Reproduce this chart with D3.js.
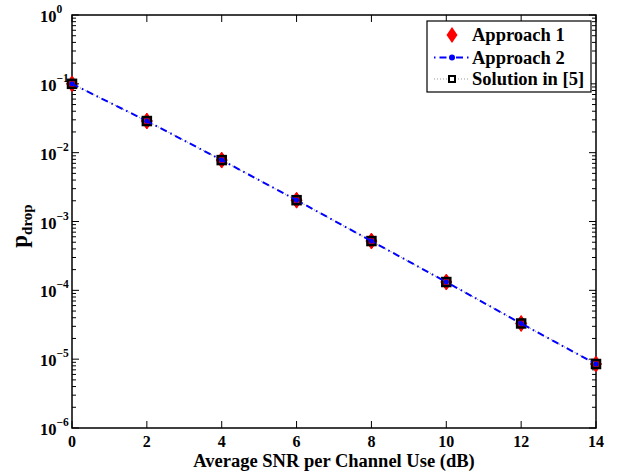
<!DOCTYPE html>
<html>
<head>
<meta charset="utf-8">
<script src="https://cdn.jsdelivr.net/npm/d3@7"></script>
<style>
  body { margin: 0; background: #fff; }
</style>
</head>
<body>
<div id="chart"></div>
<script>
"use strict";
let width = 617;
let height = 475;
let margin = {left: 72, right: 21, top: 15, bottom: 47};
let fontFamily = "'Liberation Serif', 'Times New Roman', serif";

// data
let snr = [0, 2, 4, 6, 8, 10, 12, 14];
let approach1 = [0.1, 0.0288, 0.0078, 0.00204, 0.00052, 0.000132, 0.000033, 0.0000085];
let approach2 = [0.1, 0.0288, 0.0078, 0.00204, 0.00052, 0.000132, 0.000033, 0.0000085];
let solution5 = [0.1, 0.0288, 0.0078, 0.00204, 0.00052, 0.000132, 0.000033, 0.0000085];
let xTicks = [0, 2, 4, 6, 8, 10, 12, 14];
let yExps = [0, -1, -2, -3, -4, -5, -6];
let legendNames = ["Approach 1", "Approach 2", "Solution in [5]"];

let xScale = d3.scaleLinear().domain([0, 14]).range([margin.left, width - margin.right]);
let yScale = d3.scaleLog().domain([1e-6, 1]).range([height - margin.bottom, margin.top]);

let svg = d3.select("#chart").append("svg")
    .attr("width", width)
    .attr("height", height);

function addText(sel, size) {
    return sel.append("text")
        .attr("font-family", fontFamily)
        .attr("font-weight", "bold")
        .attr("font-size", size);
}

let x0 = margin.left, x1 = width - margin.right;
let y0 = height - margin.bottom, y1 = margin.top;

// minor ticks on log axis
let minor = [];
yExps.forEach(function(e) {
    if (e === 0) return;
    for (let m = 2; m <= 9; m++) minor.push(m * Math.pow(10, e));
});
svg.selectAll(".minor").data(minor).enter().append("g").each(function(d) {
    let g = d3.select(this);
    g.append("line").attr("x1", x0).attr("x2", x0 + 4).attr("y1", yScale(d)).attr("y2", yScale(d))
        .attr("stroke", "#000").attr("stroke-width", 1);
    g.append("line").attr("x1", x1).attr("x2", x1 - 4).attr("y1", yScale(d)).attr("y2", yScale(d))
        .attr("stroke", "#000").attr("stroke-width", 1);
});

// major y ticks
yExps.forEach(function(e) {
    let y = yScale(Math.pow(10, e));
    svg.append("line").attr("x1", x0).attr("x2", x0 + 7).attr("y1", y).attr("y2", y).attr("stroke", "#000");
    svg.append("line").attr("x1", x1).attr("x2", x1 - 7).attr("y1", y).attr("y2", y).attr("stroke", "#000");
    let t = addText(svg, 16.5).attr("x", 40).attr("y", y + 7);
    t.append("tspan").text("10");
    t.append("tspan").attr("dy", -9).attr("font-size", 11.5).text(e === 0 ? "0" : "\u2212" + Math.abs(e));
});

// x ticks
xTicks.forEach(function(v) {
    let x = xScale(v);
    svg.append("line").attr("x1", x).attr("x2", x).attr("y1", y0).attr("y2", y0 - 7).attr("stroke", "#000");
    svg.append("line").attr("x1", x).attr("x2", x).attr("y1", y1).attr("y2", y1 + 7).attr("stroke", "#000");
    addText(svg, 16).attr("x", x).attr("y", y0 + 19).attr("text-anchor", "middle").text(v);
});

// frame
svg.append("rect").attr("x", x0).attr("y", y1).attr("width", x1 - x0).attr("height", y0 - y1)
    .attr("fill", "none").attr("stroke", "#000").attr("stroke-width", 1.5);

// axis labels
addText(svg, 18.5).attr("x", (x0 + x1) / 2).attr("y", 467).attr("text-anchor", "middle")
    .text("Average SNR per Channel Use (dB)");
let yl = addText(svg, 23).attr("transform", "translate(27,226) rotate(-90)")
    .attr("text-anchor", "middle");
yl.append("tspan").text("p");
yl.append("tspan").attr("dy", 5).attr("font-size", 15).text("drop");

// lines
let line = d3.line().x(function(d, i) { return xScale(snr[i]); }).y(function(d) { return yScale(d); });

// Approach 1 markers (red diamonds)
let diamond = function(cx, cy) {
    return "M" + cx + "," + (cy - 8) + "L" + (cx + 5.5) + "," + cy + "L" + cx + "," + (cy + 8) + "L" + (cx - 5.5) + "," + cy + "Z";
};
svg.selectAll(".a1").data(approach1).enter().append("path")
    .attr("d", function(d, i) { return diamond(xScale(snr[i]), yScale(d)); })
    .attr("fill", "#ff0000").attr("stroke", "#ff0000").attr("stroke-width", 1);

// Solution in [5]: dotted line with squares
svg.append("path").datum(solution5).attr("d", line)
    .attr("fill", "none").attr("stroke", "#999").attr("stroke-width", 1.2).attr("stroke-dasharray", "1,2");
svg.selectAll(".s5").data(solution5).enter().append("rect")
    .attr("x", function(d, i) { return xScale(snr[i]) - 4; })
    .attr("y", function(d) { return yScale(d) - 4; })
    .attr("width", 8).attr("height", 8)
    .attr("fill", "none").attr("stroke", "#000").attr("stroke-width", 2.5);

// Approach 2: dash-dot blue with circles
svg.append("path").datum(approach2).attr("d", line)
    .attr("fill", "none").attr("stroke", "#0000ff").attr("stroke-width", 2).attr("stroke-dasharray", "7,4,1.5,4");
svg.selectAll(".a2").data(approach2).enter().append("circle")
    .attr("cx", function(d, i) { return xScale(snr[i]); })
    .attr("cy", function(d) { return yScale(d); })
    .attr("r", 2.5).attr("fill", "#0000ff");

// legend
let lx = 427, ly = 21;
svg.append("rect").attr("x", lx).attr("y", ly).attr("width", 164).attr("height", 71)
    .attr("fill", "#fff").attr("stroke", "#000").attr("stroke-width", 1.2);
let rows = [35, 57.5, 79];
legendNames.forEach(function(name, i) {
    let y = rows[i];
    let cx = 452;
    if (i === 0) {
        svg.append("path").attr("d", diamond(cx, y)).attr("fill", "#ff0000");
    } else if (i === 1) {
        svg.append("line").attr("x1", 434).attr("x2", 469).attr("y1", y).attr("y2", y)
            .attr("stroke", "#0000ff").attr("stroke-width", 2).attr("stroke-dasharray", "1.5,4,7,4");
        svg.append("circle").attr("cx", cx).attr("cy", y).attr("r", 3).attr("fill", "#0000ff");
    } else {
        svg.append("line").attr("x1", 434).attr("x2", 469).attr("y1", y).attr("y2", y)
            .attr("stroke", "#999").attr("stroke-width", 1.2).attr("stroke-dasharray", "1,2");
        svg.append("rect").attr("x", cx - 3).attr("y", y - 3).attr("width", 6).attr("height", 6)
            .attr("fill", "#fff").attr("stroke", "#000").attr("stroke-width", 2);
    }
    addText(svg, 18.5).attr("x", 472).attr("y", y + 6).text(name);
});
</script>
</body>
</html>
